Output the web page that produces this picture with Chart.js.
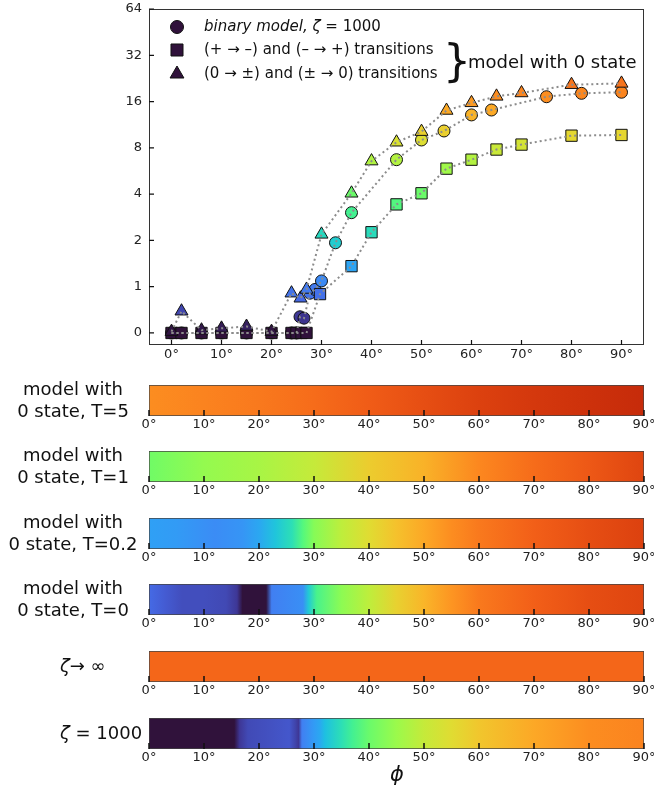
<!DOCTYPE html>
<html>
<head>
<meta charset="utf-8">
<script src="https://cdn.jsdelivr.net/npm/chart.js@4.4.0/dist/chart.umd.min.js"></script>
<style>
body { margin: 0; background: #fff; font-family: "DejaVu Sans", sans-serif; color: #111; }
#fig { position: relative; width: 654px; height: 789px; overflow: hidden; }
#fig canvas { position: absolute; left: 0; }
.lab { position: absolute; left: 0; width: 146px; font-size: 18px; line-height: 22px; text-align: center; white-space: nowrap; }
.zlab { position: absolute; left: 60px; font-size: 18px; line-height: 22px; white-space: nowrap; }
#phi { position: absolute; left: 390px; top: 762px; font-size: 21px; font-style: italic; }
</style>
</head>
<body>
<div id="fig">
  <canvas id="main" width="654" height="372" style="top:0"></canvas>

  <canvas id="barT5" width="654" height="52" style="top:383px"></canvas>
  <canvas id="barT1" width="654" height="52" style="top:449px"></canvas>
  <canvas id="barT02" width="654" height="52" style="top:516px"></canvas>
  <canvas id="barT0" width="654" height="52" style="top:582px"></canvas>
  <canvas id="barInf" width="654" height="52" style="top:649px"></canvas>
  <canvas id="barZ" width="654" height="52" style="top:716px"></canvas>

  <div class="lab" style="top:378px">model with<br>0 state, T=5</div>
  <div class="lab" style="top:444px">model with<br>0 state, T=1</div>
  <div class="lab" style="top:511px">model with<br>0 state, T=0.2</div>
  <div class="lab" style="top:577px">model with<br>0 state, T=0</div>
  <div class="zlab" style="top:655px"><i>ζ</i>→ ∞</div>
  <div class="zlab" style="top:722px"><i>ζ</i> = 1000</div>
  <div id="phi">ϕ</div>
</div>

<script>
// binary model, zeta = 1000 (circles)
const phiCirc = [0, 2, 6, 10, 15, 20, 24, 25, 25.7, 26.5, 27.7, 28.7, 30, 32.8, 36, 45, 50, 54.5, 60, 64, 75, 82, 90];
const valCirc = [0, 0, 0, 0, 0, 0, 0, 0, 0.35, 0.32, 0.86, 0.94, 1.09, 1.93, 3.03, 6.7, 9.0, 10.3, 13.1, 14.1, 17.2, 18.1, 18.4];

// (+ -> -) and (- -> +) transitions (squares)
const phiSq = [0, 2, 6, 10, 15, 20, 24, 25, 26, 27, 29.7, 36, 40, 45, 50, 55, 60, 65, 70, 80, 90];
const valSq = [0, 0, 0, 0, 0, 0, 0, 0, 0, 0, 0.84, 1.36, 2.26, 3.43, 4.05, 5.86, 6.7, 7.8, 8.4, 9.6, 9.7];

// (0 -> +-) and (+- -> 0) transitions (triangles)
const phiTri = [0, 2, 6, 10, 15, 20, 24, 25.8, 27, 30, 36, 40, 45, 50, 55, 60, 65, 70, 80, 90];
const valTri = [0.03, 0.47, 0.06, 0.1, 0.14, 0.03, 0.86, 0.75, 0.94, 2.19, 4.05, 6.56, 8.7, 10.2, 14.0, 15.7, 17.3, 18.2, 20.6, 21.0];

// colour strips: value along phi
const phiT5 = [0, 10, 20, 30, 40, 50, 60, 70, 80, 90];
const valT5 = [17.3, 18.6, 20.0, 22.0, 24.8, 27.4, 30.2, 32.4, 34.1, 35.8];

const phiT1 = [0, 10, 20, 30, 40, 50, 60, 70, 80, 90];
const valT1 = [4.2, 5.4, 6.2, 7.6, 10.6, 13.2, 18.1, 22.0, 25.5, 29.4];

const phiT02 = [0, 5, 12, 17, 20, 23, 26, 28, 30, 35, 40, 45, 50, 55, 60, 70, 80, 90];
const valT02 = [1.32, 1.26, 1.11, 1.2, 1.39, 1.77, 2.36, 3.48, 4.89, 7.2, 9.2, 11.7, 14.2, 17.3, 20.0, 24.3, 27.4, 30.2];

const phiT0 = [0, 3, 6, 10, 14, 16, 17, 21.3, 22.3, 28, 29, 30.5, 35, 40, 45, 50, 55, 60, 70, 80, 90];
const valT0 = [0.77, 0.63, 0.53, 0.53, 0.49, 0.35, 0, 0, 1.0, 1.14, 1.85, 3.16, 5.13, 7.2, 10.1, 12.9, 16.4, 20.0, 24.3, 27.4, 29.4];

const phiInf = [0, 90];
const valInf = [23.1, 23.1];

const phiZ = [0, 15.5, 16.5, 18, 22, 25.5, 26.6, 27.2, 27.8, 30, 31, 32, 35, 37, 40, 45, 50, 55, 60, 70, 80, 90];
const valZ = [0, 0, 0.35, 0.5, 0.55, 0.6, 0.45, 0.35, 1.0, 1.26, 1.39, 1.68, 2.36, 3.01, 4.03, 5.66, 7.57, 9.19, 11.2, 14.2, 17.3, 18.6];

const xTickVals = [0, 10, 20, 30, 40, 50, 60, 70, 80, 90];
const yTickVals = [0, 1, 2, 4, 8, 16, 32, 64];

// linear below 1, log2 above
const tr = v => v <= 1 ? v : 1 + Math.log2(v);
const T_MAX = 7;

// turbo-like colour table
const cmapStops = [
  [0.00, 48, 18, 59], [0.05, 62, 55, 150], [0.10, 70, 100, 225], [0.15, 64, 132, 245],
  [0.20, 47, 160, 245], [0.25, 30, 192, 225], [0.30, 39, 215, 195], [0.35, 55, 235, 160],
  [0.40, 85, 248, 125], [0.45, 120, 252, 95], [0.50, 155, 250, 75], [0.55, 190, 238, 60],
  [0.60, 224, 220, 50], [0.65, 245, 193, 44], [0.70, 254, 162, 36], [0.75, 251, 128, 30],
  [0.80, 242, 95, 24], [0.85, 218, 62, 14], [0.90, 185, 31, 7], [0.95, 150, 15, 4], [1.00, 122, 4, 3]
];
function cmap(l) {
  l = Math.max(0, Math.min(1, l));
  for (let i = 1; i < cmapStops.length; i++) {
    const a = cmapStops[i - 1], b = cmapStops[i];
    if (l <= b[0]) {
      const f = (l - a[0]) / (b[0] - a[0]);
      const c = [1, 2, 3].map(k => Math.round(a[k] + (b[k] - a[k]) * f));
      return `rgb(${c[0]},${c[1]},${c[2]})`;
    }
  }
  return 'rgb(122,4,3)';
}
const colorOf = v => cmap(tr(v) / T_MAX);

Chart.defaults.font.family = "'DejaVu Sans', sans-serif";
Chart.defaults.color = '#222';

const tickFont = { size: 13 };

// ticks pointing into the plot, plus optional frame
const inTicks = {
  id: 'inTicks',
  afterDraw(chart, args, o) {
    const { ctx, chartArea: a, scales } = chart;
    ctx.save();
    ctx.strokeStyle = '#333';
    ctx.lineWidth = 1;
    if (o.frame) ctx.strokeRect(a.left + 0.5, a.top + 0.5, a.right - a.left - 1, a.bottom - a.top - 1);
    ctx.strokeStyle = '#111';
    ctx.lineWidth = o.width || 1.2;
    ctx.beginPath();
    scales.x.ticks.forEach(t => {
      const x = scales.x.getPixelForValue(t.value);
      ctx.moveTo(x, a.bottom);
      ctx.lineTo(x, a.bottom - o.len);
    });
    if (o.yTicks) {
      scales.y.ticks.forEach(t => {
        const y = scales.y.getPixelForValue(t.value);
        ctx.moveTo(a.left, y);
        ctx.lineTo(a.left + o.len, y);
      });
    }
    ctx.stroke();
    ctx.restore();
  }
};

function drawMarker(ctx, style, x, y, r) {
  ctx.beginPath();
  if (style === 'circle') {
    ctx.arc(x, y, r, 0, Math.PI * 2);
  } else if (style === 'rect') {
    const s = r * Math.SQRT1_2;
    ctx.rect(x - s, y - s, 2 * s, 2 * s);
  } else {
    for (let k = 0; k < 3; k++) {
      const ang = k * 2 * Math.PI / 3;
      const px = x + Math.sin(ang) * r, py = y - Math.cos(ang) * r;
      k ? ctx.lineTo(px, py) : ctx.moveTo(px, py);
    }
    ctx.closePath();
  }
  ctx.fill();
  ctx.stroke();
}

const legendRows = [
  { style: 'circle', r: 6.5, y: 27, parts: [['binary model, ', 'italic'], ['ζ', 'italic'], [' = 1000', 'normal']] },
  { style: 'rect', r: 8.5, y: 50, parts: [['(+ → –) and (– → +) transitions', 'normal']] },
  { style: 'triangle', r: 8, y: 74, parts: [['(0 → ±) and (± → 0) transitions', 'normal']] }
];

const legendBox = {
  id: 'legendBox',
  afterDraw(chart) {
    const ctx = chart.ctx;
    ctx.save();
    ctx.textBaseline = 'middle';
    legendRows.forEach(row => {
      ctx.fillStyle = colorOf(0);
      ctx.strokeStyle = '#111';
      ctx.lineWidth = 1;
      drawMarker(ctx, row.style, 177, row.y, row.r);
      let x = 204;
      ctx.fillStyle = '#111';
      row.parts.forEach(([txt, st]) => {
        ctx.font = `${st} 15px 'DejaVu Sans'`;
        ctx.fillText(txt, x, row.y);
        x += ctx.measureText(txt).width;
      });
    });
    ctx.font = "44px 'DejaVu Sans'";
    ctx.fillText('}', 443, 65);
    ctx.font = "18px 'DejaVu Sans'";
    ctx.fillText('model with 0 state', 468, 63);
    ctx.restore();
  }
};

const pts = (phi, val) => phi.map((p, i) => ({ x: p, y: tr(val[i]) }));
const fillByValue = c => c.raw ? cmap(c.raw.y / T_MAX) : '#000';

function markerSet(phi, val, style, r, order) {
  return {
    data: pts(phi, val), showLine: false, pointStyle: style, pointRadius: r,
    pointBackgroundColor: fillByValue, pointBorderColor: '#111', pointBorderWidth: 1, order
  };
}
function lineSet(phi, val) {
  return {
    data: pts(phi, val), showLine: true, pointRadius: 0, borderColor: '#8c8c8c',
    borderWidth: 2, borderDash: [2, 3], fill: false, order: 0
  };
}

new Chart(document.getElementById('main'), {
  type: 'scatter',
  data: {
    datasets: [
      lineSet(phiCirc, valCirc),
      lineSet(phiSq, valSq),
      lineSet(phiTri, valTri),
      markerSet(phiTri, valTri, 'triangle', 7.5, 1),
      markerSet(phiSq, valSq, 'rect', 8, 2),
      markerSet(phiCirc, valCirc, 'circle', 6, 3)
    ]
  },
  options: {
    responsive: false,
    animation: false,
    events: [],
    layout: { padding: { top: 8, right: 10, left: 0, bottom: 0 } },
    plugins: { legend: { display: false }, tooltip: { enabled: false }, inTicks: { len: 5, frame: true, yTicks: true } },
    scales: {
      x: {
        type: 'linear', min: -4.5, max: 94.5,
        grid: { display: false, drawTicks: false }, border: { display: false },
        afterBuildTicks: s => { s.ticks = xTickVals.map(v => ({ value: v })); },
        afterFit: s => { s.height = 27; s.paddingLeft = 0; s.paddingRight = 0; },
        ticks: { font: tickFont, padding: 2, maxRotation: 0, autoSkip: false, callback: v => v + '°' }
      },
      y: {
        type: 'linear', min: -0.26, max: 7,
        grid: { display: false, drawTicks: false }, border: { display: false },
        afterBuildTicks: s => { s.ticks = yTickVals.map(v => ({ value: tr(v) })); },
        afterFit: s => { s.width = 149; s.paddingTop = 0; s.paddingBottom = 0; },
        ticks: { font: tickFont, padding: 7, autoSkip: false, callback: (v, i) => yTickVals[i] }
      }
    }
  },
  plugins: [inTicks, legendBox]
});

// one horizontal strip per model, coloured along phi
function gradientFor(chart, phi, val) {
  const x = chart.scales.x;
  if (!x || !chart.chartArea) return colorOf(val[0]);
  const x0 = x.getPixelForValue(0), x1 = x.getPixelForValue(90);
  const g = chart.ctx.createLinearGradient(x0, 0, x1, 0);
  phi.forEach((p, i) => g.addColorStop((x.getPixelForValue(p) - x0) / (x1 - x0), colorOf(val[i])));
  return g;
}

function strip(id, phi, val) {
  new Chart(document.getElementById(id), {
    type: 'bar',
    data: {
      labels: [''],
      datasets: [{
        data: [[0, 90]],
        backgroundColor: c => gradientFor(c.chart, phi, val),
        borderColor: '#444', borderWidth: 1, borderSkipped: false,
        barPercentage: 1, categoryPercentage: 1
      }]
    },
    options: {
      indexAxis: 'y',
      responsive: false,
      animation: false,
      events: [],
      layout: { padding: { top: 2, right: 10, left: 149, bottom: 0 } },
      plugins: { legend: { display: false }, tooltip: { enabled: false }, inTicks: { len: 6, width: 1.5 } },
      scales: {
        x: {
          type: 'linear', min: 0, max: 90,
          grid: { display: false, drawTicks: false }, border: { display: false },
          afterBuildTicks: s => { s.ticks = xTickVals.map(v => ({ value: v })); },
          afterFit: s => { s.height = 19; s.paddingLeft = 0; s.paddingRight = 0; },
          ticks: { font: tickFont, padding: 1, maxRotation: 0, autoSkip: false, callback: v => v + '°' }
        },
        y: { display: false }
      }
    },
    plugins: [inTicks]
  });
}

strip('barT5', phiT5, valT5);
strip('barT1', phiT1, valT1);
strip('barT02', phiT02, valT02);
strip('barT0', phiT0, valT0);
strip('barInf', phiInf, valInf);
strip('barZ', phiZ, valZ);
</script>
</body>
</html>
